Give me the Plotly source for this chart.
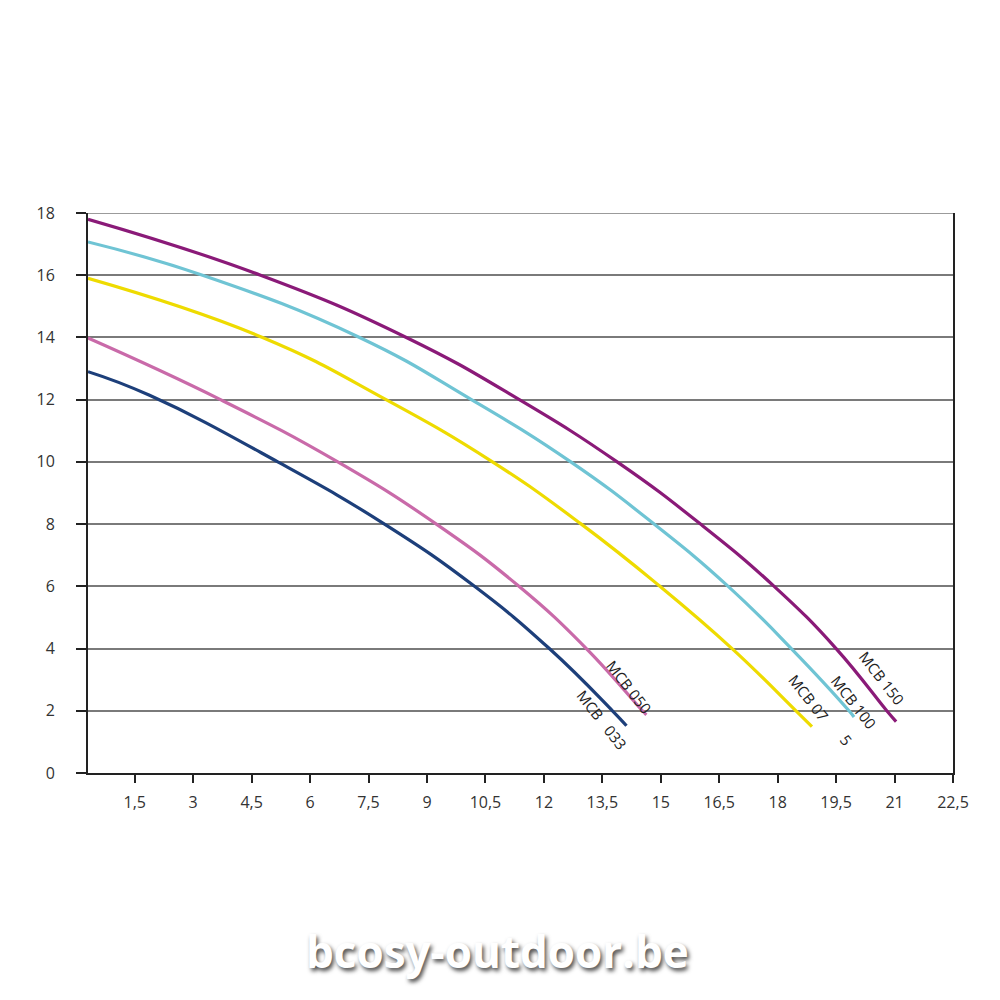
import plotly.graph_objects as go

# Flow (x) and head (y)
mcb033_x = [0.3, 1.88, 5.17, 7.91, 10.22, 12.14, 13.76, 14.12]
mcb033_y = [12.9, 12.14, 10.0, 8.0, 6.0, 4.0, 2.0, 1.52]

mcb050_x = [0.3, 3.7, 6.71, 9.24, 11.36, 13.09, 14.53, 14.63]
mcb050_y = [13.98, 12.0, 10.0, 8.0, 6.0, 4.0, 2.0, 1.87]

mcb075_x = [0.3, 4.78, 7.95, 10.68, 12.96, 14.98, 16.83, 18.47, 18.88]
mcb075_y = [15.9, 14.0, 12.0, 10.0, 8.0, 6.0, 4.0, 2.0, 1.49]

mcb100_x = [0.3, 3.24, 7.27, 10.14, 12.69, 14.83, 16.73, 18.35, 19.83, 19.96]
mcb100_y = [17.07, 16.0, 14.0, 12.0, 10.0, 8.0, 6.0, 4.0, 2.0, 1.8]

mcb150_x = [0.3, 4.73, 8.47, 11.37, 13.88, 16.02, 17.91, 19.5, 20.8, 21.04]
mcb150_y = [17.8, 16.0, 14.0, 12.0, 10.0, 8.0, 6.0, 4.0, 2.0, 1.65]

x_tickvals = [1.5, 3, 4.5, 6, 7.5, 9, 10.5, 12, 13.5, 15, 16.5, 18, 19.5, 21, 22.5]
x_ticktext = ["1,5", "3", "4,5", "6", "7,5", "9", "10,5", "12", "13,5", "15",
              "16,5", "18", "19,5", "21", "22,5"]
y_tickvals = [0, 2, 4, 6, 8, 10, 12, 14, 16, 18]

series = [
    ("MCB 033", mcb033_x, mcb033_y, "#1d3f7a"),
    ("MCB 050", mcb050_x, mcb050_y, "#c96aa9"),
    ("MCB 075", mcb075_x, mcb075_y, "#eedb00"),
    ("MCB 100", mcb100_x, mcb100_y, "#6fc4d4"),
    ("MCB 150", mcb150_x, mcb150_y, "#8a1a78"),
]

# curve labels: text, x, y
labels = [
    ("MCB   033", 13.5, 1.71),
    ("MCB 050", 14.19, 2.77),
    ("MCB 07", 18.81, 2.42),
    ("5", 19.76, 1.06),
    ("MCB 100", 19.96, 2.29),
    ("MCB 150", 20.68, 3.06),
]

fig = go.Figure()
for name, xs, ys, col in series:
    fig.add_trace(go.Scatter(x=xs, y=ys, mode="lines", name=name,
                             line=dict(color=col, width=3.2, shape="spline", smoothing=1.3),
                             showlegend=False))

for txt, lx, ly in labels:
    fig.add_annotation(x=lx, y=ly, text=txt, showarrow=False, textangle=52,
                       font=dict(family="Open Sans", size=15, color="#222"))

# top gridline at 18 (plotly omits the grid line on the range edge)
fig.add_shape(type="line", xref="paper", x0=0, x1=1, yref="y", y0=18, y1=18,
              line=dict(color="#7a7a7a", width=1.6), layer="below")

fig.add_annotation(x=0.473, y=-0.375, xref="paper", yref="paper", text="<b>bcosy-outdoor.be</b>",
                   showarrow=False,
                   font=dict(family="Open Sans", size=44, color="white",
                             shadow="2px 3px 4px rgba(0,0,0,0.7)"))

fig.update_layout(
    width=1000, height=1000,
    margin=dict(l=80, r=55, t=205, b=235),
    paper_bgcolor="white", plot_bgcolor="white",
    font=dict(family="Open Sans", size=16, color="#333"),
)
fig.update_xaxes(range=[0.3, 22.5], tickvals=x_tickvals, ticktext=x_ticktext,
                 showgrid=False, zeroline=False, showline=True, linecolor="#222", linewidth=2,
                 ticks="outside", ticklen=8, tickwidth=2, tickcolor="#222",
                 ticklabelstandoff=6)
fig.update_yaxes(range=[0, 18], tickvals=y_tickvals,
                 showgrid=True, gridcolor="#7a7a7a", gridwidth=1.6, zeroline=False,
                 showline=True, linecolor="#222", linewidth=2, mirror=True,
                 ticks="outside", ticklen=10, tickwidth=2, tickcolor="#222",
                 ticklabelstandoff=18)

fig.write_html("out.html")
